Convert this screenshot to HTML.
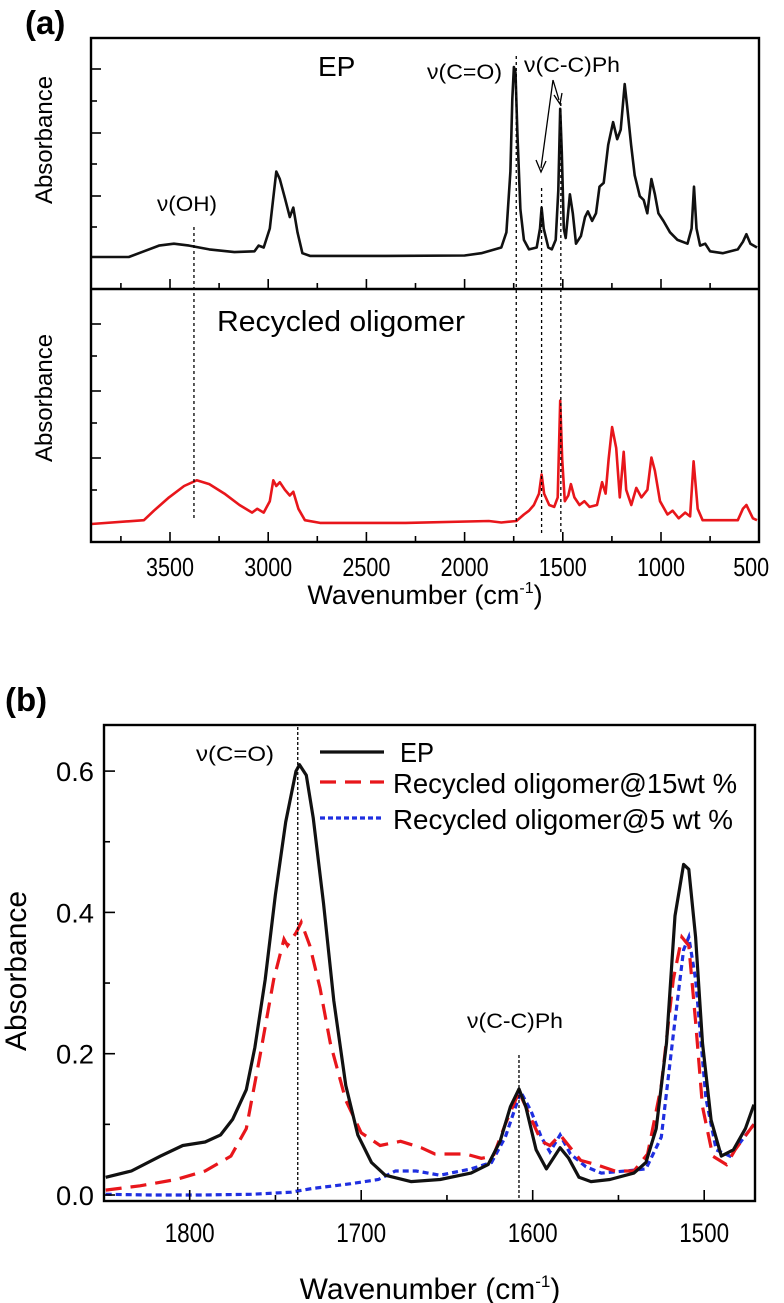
<!DOCTYPE html>
<html><head><meta charset="utf-8"><style>
html,body{margin:0;padding:0;background:#fff;}
svg{display:block;font-family:"Liberation Sans",Arial,sans-serif;}
</style></head><body>
<svg id="fig" width="784" height="1303" viewBox="0 0 784 1303" xmlns="http://www.w3.org/2000/svg">
<g id="pa"></g>
<g id="pb"></g>
</svg>
<script>
// ---------- Panel (a) data ----------
const aWnEP = [3900,3710,3633,3556,3480,3403,3300,3172,3070,3049,3023,2992,2959,2941,2915,2890,2872,2851,2826,2787,2400,2000,1915,1813,1787,1767,1757,1749,1741,1731,1716,1698,1672,1633,1616,1608,1597,1574,1556,1536,1523,1513,1505,1495,1485,1464,1449,1433,1408,1387,1372,1351,1331,1313,1292,1269,1244,1223,1205,1185,1172,1152,1134,1108,1088,1070,1049,1031,1013,988,954,916,865,844,832,819,801,775,750,686,609,583,565,545,511];
const aValEP = [0,0,0.03,0.06,0.07,0.06,0.04,0.026,0.03,0.06,0.05,0.15,0.45,0.41,0.31,0.21,0.26,0.13,0.02,0.006,0.006,0.008,0.02,0.05,0.13,0.45,0.83,1.0,0.97,0.65,0.25,0.09,0.04,0.05,0.15,0.26,0.15,0.05,0.04,0.09,0.35,0.78,0.55,0.15,0.1,0.33,0.23,0.07,0.11,0.21,0.24,0.19,0.23,0.37,0.39,0.59,0.71,0.62,0.67,0.91,0.79,0.59,0.43,0.32,0.30,0.23,0.41,0.33,0.23,0.19,0.13,0.09,0.07,0.15,0.37,0.15,0.06,0.07,0.03,0.02,0.04,0.08,0.12,0.07,0.05];
const aWnRO = [3900,3633,3582,3505,3428,3364,3300,3223,3146,3082,3056,3023,2992,2974,2959,2941,2915,2890,2872,2846,2813,2736,2300,1877,1813,1736,1698,1672,1647,1621,1608,1595,1569,1544,1526,1513,1503,1490,1472,1459,1441,1415,1390,1364,1326,1300,1282,1267,1249,1228,1210,1190,1177,1151,1126,1100,1069,1049,1031,1005,967,941,910,877,852,834,813,788,737,609,583,565,532,511];
const aValRO = [0,0.02,0.07,0.14,0.2,0.23,0.21,0.16,0.1,0.06,0.08,0.06,0.12,0.23,0.2,0.22,0.18,0.15,0.17,0.08,0.02,0.006,0.006,0.016,0.008,0.016,0.05,0.07,0.1,0.16,0.26,0.16,0.1,0.09,0.14,0.65,0.34,0.12,0.15,0.21,0.14,0.1,0.12,0.09,0.1,0.22,0.16,0.34,0.51,0.4,0.14,0.38,0.18,0.1,0.19,0.14,0.18,0.35,0.28,0.12,0.05,0.07,0.03,0.06,0.04,0.33,0.08,0.02,0.02,0.02,0.08,0.1,0.03,0.02];
const aTicks = [3500,3000,2500,2000,1500,1000,500];
const aTickLabels = ["3500","3000","2500","2000","1500","1000","500"];

// ---------- Panel (b) data ----------
const bWnEP = [1849,1834,1817,1804,1791,1782,1775,1767,1762,1756,1750,1744,1738,1736,1732,1728,1722,1716,1709,1702,1694,1686,1671,1654,1636,1626,1619,1613,1608,1604,1598,1592,1588,1584,1579,1573,1566,1555,1541,1534,1528,1522,1517,1512,1509,1505,1501,1496,1490,1483,1476,1471];
const bValEP = [0.025,0.034,0.055,0.07,0.075,0.085,0.107,0.149,0.209,0.305,0.425,0.528,0.6,0.609,0.594,0.534,0.413,0.275,0.155,0.085,0.046,0.028,0.019,0.022,0.031,0.043,0.076,0.125,0.15,0.125,0.064,0.037,0.052,0.067,0.052,0.025,0.019,0.022,0.031,0.046,0.094,0.215,0.395,0.468,0.461,0.365,0.215,0.106,0.055,0.064,0.094,0.128];
const bWn15 = [1849,1829,1808,1791,1776,1767,1759,1751,1745,1743,1738,1735,1730,1724,1718,1709,1700,1689,1677,1665,1657,1639,1630,1623,1616,1608,1603,1595,1590,1584,1578,1572,1563,1552,1541,1533,1525,1518,1513,1509,1505,1501,1495,1487,1482,1471];
const bVal15 = [0.007,0.013,0.022,0.034,0.055,0.094,0.197,0.305,0.362,0.353,0.371,0.386,0.353,0.293,0.215,0.134,0.088,0.07,0.076,0.067,0.058,0.058,0.052,0.055,0.1,0.146,0.119,0.076,0.07,0.085,0.067,0.049,0.043,0.034,0.034,0.058,0.155,0.305,0.365,0.353,0.245,0.125,0.055,0.043,0.064,0.1];
const bWn5 = [1849,1823,1794,1764,1741,1729,1706,1690,1680,1668,1654,1636,1624,1616,1607,1601,1595,1590,1584,1578,1569,1560,1546,1534,1525,1518,1512,1509,1505,1499,1493,1485,1471];
const bVal5 = [0.001,0,0,0.001,0.004,0.009,0.016,0.022,0.034,0.034,0.028,0.037,0.046,0.082,0.146,0.119,0.082,0.061,0.085,0.058,0.04,0.031,0.034,0.037,0.082,0.227,0.347,0.365,0.305,0.137,0.064,0.055,0.1];
const bXTicks = [1800,1700,1600,1500];
const bXLabels = ["1800","1700","1600","1500"];
const bYTicks = [0,0.2,0.4,0.6];
const bYLabels = ["0.0","0.2","0.4","0.6"];

const NS="http://www.w3.org/2000/svg";
function mk(parent,tag,attrs,text){const e=document.createElementNS(NS,tag);for(const k in attrs)e.setAttribute(k,attrs[k]);if(text!==undefined)e.textContent=text;parent.appendChild(e);return e;}
function pathFrom(xs,ys,fx,fy){return xs.map((w,i)=>(i?'L':'M')+fx(w).toFixed(1)+','+fy(ys[i]).toFixed(1)).join('');}
const SG='spacingAndGlyphs';

// ---------- Panel (a) ----------
const pa=document.getElementById('pa');
const aL=91,aR=759,aT=38,aM=289,aB=542;
const axA=w=>170+(3500-w)*0.1964;
const ayTop=v=>257-190*v;
const ayBot=v=>524-190*v;
let t;
t=mk(pa,'text',{x:25,y:34,'font-size':33,'font-weight':'bold'},'(a)');


let ln;
ln=mk(pa,'path',{d:pathFrom(aWnEP,aValEP,axA,ayTop),fill:'none',stroke:'#111','stroke-width':2.6,'stroke-linejoin':'round'});


ln=mk(pa,'path',{d:pathFrom(aWnRO,aValRO,axA,ayBot),fill:'none',stroke:'#e8161b','stroke-width':2.6,'stroke-linejoin':'round'});


[[3378,227,520],[1737,56,529],[1608,188,534],[1510,103,534]].forEach(g=>{
  const d=mk(pa,'line',{x1:axA(g[0]),x2:axA(g[0]),y1:g[1],y2:g[2],stroke:'#000','stroke-width':1.3,'stroke-dasharray':'3,3'});
  
  
});
mk(pa,'path',{d:'M553,80 L541,168 M536,160 L541,172 L546,161 M553,80 L559,100 M554,95 L560,104 L562,93',fill:'none',stroke:'#000','stroke-width':1.3});
const fa=mk(pa,'rect',{x:aL,y:aT,width:aR-aL,height:aB-aT,fill:'none',stroke:'#000','stroke-width':2.4});


mk(pa,'line',{x1:aL,x2:aR,y1:aM,y2:aM,stroke:'#000','stroke-width':2.4});
[69,101,133,164,196,227].forEach((y,i)=>mk(pa,'line',{x1:aL,x2:aL+(i%2?6:10),y1:y,y2:y,stroke:'#000','stroke-width':1.6}));
[324,356,391,423,458,490].forEach((y,i)=>mk(pa,'line',{x1:aL,x2:aL+(i%2?6:10),y1:y,y2:y,stroke:'#000','stroke-width':1.6}));
for(let w=3750;w>500;w-=250){const maj=(w%500===0);const x=axA(w);
  mk(pa,'line',{x1:x,x2:x,y1:aB,y2:aB-(maj?10:6),stroke:'#000','stroke-width':1.6});
  mk(pa,'line',{x1:x,x2:x,y1:aM,y2:aM-(maj?10:6),stroke:'#000','stroke-width':1.6});}
aTicks.forEach((w,i)=>{const s=aTickLabels[i];const tl=mk(pa,'text',{x:axA(w)-(w===500?8:0),y:576,'font-size':26,'text-anchor':'middle',textLength:s.length*12,lengthAdjust:SG},s);
  
  });
t=mk(pa,'text',{x:425,y:604,'font-size':27,'text-anchor':'middle'});
t.innerHTML='Wavenumber (cm<tspan dy="-11" font-size="16">-1</tspan><tspan dy="11">)</tspan>';


t=mk(pa,'text',{x:0,y:0,'font-size':24,'text-anchor':'middle',transform:'translate(52,140) rotate(-90)'},'Absorbance');


t=mk(pa,'text',{x:0,y:0,'font-size':24,'text-anchor':'middle',transform:'translate(52,398) rotate(-90)'},'Absorbance');


t=mk(pa,'text',{x:318,y:76,'font-size':28},'EP');


t=mk(pa,'text',{x:217,y:331,'font-size':29,textLength:248,lengthAdjust:SG},'Recycled oligomer');


t=mk(pa,'text',{x:157,y:211,'font-size':21,textLength:60,lengthAdjust:SG},'ν(OH)');


t=mk(pa,'text',{x:427,y:79,'font-size':21,textLength:75,lengthAdjust:SG},'ν(C=O)');


t=mk(pa,'text',{x:524,y:72,'font-size':21,textLength:96,lengthAdjust:SG},'ν(C-C)Ph');



// ---------- Panel (b) ----------
const pb=document.getElementById('pb');
const bL=104,bR=755,bT=725,bB=1201;
const bx=w=>189.7+(1800-w)*1.715;
const by=v=>1195-706.5*v;
t=mk(pb,'text',{x:5,y:711,'font-size':33,'font-weight':'bold'},'(b)');


const clip=mk(pb,'clipPath',{id:'bclip'});mk(clip,'rect',{x:bL,y:bT,width:bR-bL,height:bB-bT});
const lg=mk(pb,'g',{'clip-path':'url(#bclip)'});
ln=mk(lg,'path',{d:pathFrom(bWn5,bVal5,bx,by),fill:'none',stroke:'#1f2fe0','stroke-width':3.2,'stroke-dasharray':'6,4'});


ln=mk(lg,'path',{d:pathFrom(bWn15,bVal15,bx,by),fill:'none',stroke:'#e8161b','stroke-width':3.2,'stroke-dasharray':'16,9'});


ln=mk(lg,'path',{d:pathFrom(bWnEP,bValEP,bx,by),fill:'none',stroke:'#111','stroke-width':3.2,'stroke-linejoin':'round'});


[[1737,727],[1608,1055]].forEach(g=>{const d=mk(pb,'line',{x1:bx(g[0]),x2:bx(g[0]),y1:g[1],y2:bB,stroke:'#000','stroke-width':1.3,'stroke-dasharray':'3,2'});
  
  });
const fb=mk(pb,'rect',{x:bL,y:bT,width:bR-bL,height:bB-bT,fill:'none',stroke:'#000','stroke-width':2.4});


[0.1,0.3,0.5].forEach(v=>mk(pb,'line',{x1:bL,x2:bL+6,y1:by(v),y2:by(v),stroke:'#000','stroke-width':1.6}));
bYTicks.forEach((v,i)=>{mk(pb,'line',{x1:bL,x2:bL+11,y1:by(v),y2:by(v),stroke:'#000','stroke-width':1.6});
  const tl=mk(pb,'text',{x:94,y:by(v)+10,'font-size':27,'text-anchor':'end',textLength:38,lengthAdjust:SG},bYLabels[i]);
  
  });
[1750,1650,1550].forEach(w=>mk(pb,'line',{x1:bx(w),x2:bx(w),y1:bB,y2:bB-6,stroke:'#000','stroke-width':1.6}));
bXTicks.forEach((w,i)=>{mk(pb,'line',{x1:bx(w),x2:bx(w),y1:bB,y2:bB-11,stroke:'#000','stroke-width':1.6});
  const tl=mk(pb,'text',{x:bx(w),y:1242,'font-size':27,'text-anchor':'middle',textLength:50,lengthAdjust:SG},bXLabels[i]);
  
  });
t=mk(pb,'text',{x:430,y:1299,'font-size':30,'text-anchor':'middle'});
t.innerHTML='Wavenumber (cm<tspan dy="-12" font-size="17">-1</tspan><tspan dy="12">)</tspan>';


t=mk(pb,'text',{x:0,y:0,'font-size':30,'text-anchor':'middle',transform:'translate(26,971) rotate(-90)'},'Absorbance');


t=mk(pb,'text',{x:196,y:761,'font-size':21,textLength:78,lengthAdjust:SG},'ν(C=O)');


t=mk(pb,'text',{x:467,y:1028,'font-size':21,textLength:96,lengthAdjust:SG},'ν(C-C)Ph');


const lgd=mk(pb,'g',{});


mk(lgd,'line',{x1:320,x2:384,y1:752,y2:752,stroke:'#111','stroke-width':3.2});
mk(lgd,'line',{x1:320,x2:384,y1:782,y2:782,stroke:'#e8161b','stroke-width':3.2,'stroke-dasharray':'16,9'});
mk(lgd,'line',{x1:320,x2:384,y1:818,y2:818,stroke:'#1f2fe0','stroke-width':3.2,'stroke-dasharray':'5,3'});
t=mk(lgd,'text',{x:400,y:762,'font-size':28,textLength:34,lengthAdjust:SG},'EP');


t=mk(lgd,'text',{x:393,y:793,'font-size':28,textLength:344,lengthAdjust:SG},'Recycled oligomer@15wt %');


t=mk(lgd,'text',{x:393,y:829,'font-size':28,textLength:340,lengthAdjust:SG},'Recycled oligomer@5 wt %');


</script>
</body></html>
